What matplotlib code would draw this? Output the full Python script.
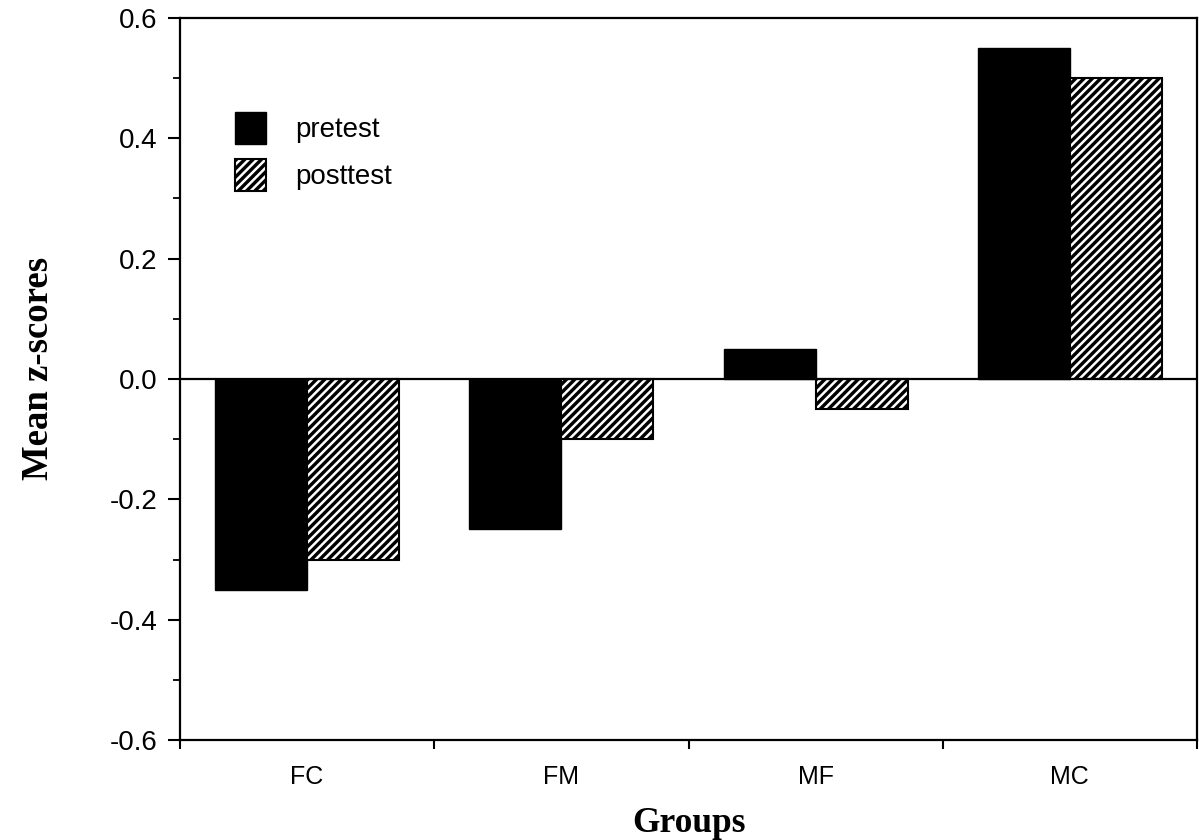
import matplotlib
matplotlib.use("Agg")
import matplotlib.pyplot as plt
from matplotlib.patches import Patch
from matplotlib.ticker import MultipleLocator, FixedLocator, NullFormatter, FixedFormatter
import numpy as np

groups = ["FC", "FM", "MF", "MC"]
pretest = [-0.35, -0.25, 0.05, 0.55]
posttest = [-0.30, -0.10, -0.05, 0.50]
series_labels = ["pretest", "posttest"]

plt.rcParams['axes.unicode_minus'] = False
plt.rcParams['hatch.color'] = 'white'
plt.rcParams['hatch.linewidth'] = 1.8
plt.rcParams['font.family'] = ['Liberation Sans', 'DejaVu Sans']

fig = plt.figure(figsize=(11.99, 8.40), dpi=100)
ax = fig.add_axes([180/1199, 1 - 740/840, (1197 - 180)/1199, (740 - 18)/840])

x = np.arange(len(groups))
w = 0.362
ax.bar(x - w/2, pretest, width=w, color='black', edgecolor='black', linewidth=1.0, zorder=2)
ax.bar(x + w/2, posttest, width=w, facecolor='black', hatch='////', zorder=2)
ax.bar(x + w/2, posttest, width=w, fill=False, edgecolor='black', linewidth=1.5, zorder=3)

ax.axhline(0, color='black', linewidth=1.6, zorder=4)

ax.set_xlim(-0.5, len(groups) - 0.5)
ax.set_ylim(-0.6, 0.6)

ax.yaxis.set_major_locator(MultipleLocator(0.2))
ax.yaxis.set_minor_locator(MultipleLocator(0.1))
ax.yaxis.set_major_formatter(matplotlib.ticker.FormatStrFormatter('%.1f'))

ax.xaxis.set_major_locator(FixedLocator(np.arange(len(groups) + 1) - 0.5))
ax.xaxis.set_major_formatter(NullFormatter())
ax.xaxis.set_minor_locator(FixedLocator(x))
ax.xaxis.set_minor_formatter(FixedFormatter(groups))

for s in ax.spines.values():
    s.set_linewidth(1.6)

ax.tick_params(axis='y', which='major', direction='out', length=9, width=1.5, labelsize=20, pad=7)
ax.tick_params(axis='y', which='minor', direction='out', length=5, width=1.3)
ax.tick_params(axis='x', which='major', direction='out', length=6.5, width=1.5)
ax.tick_params(axis='x', which='minor', length=0, labelsize=18, pad=18)

ax.set_xlabel("Groups", family=['Liberation Serif', 'DejaVu Serif'], fontweight='bold', fontsize=25.5)
ax.xaxis.set_label_coords(0.5, -0.093)
ax.xaxis.label.set_va('top')
ax.set_ylabel("Mean z-scores", family=['Liberation Serif', 'DejaVu Serif'], fontweight='bold', fontsize=26.5)
ax.yaxis.set_label_coords(-0.122, 0.515)

h1 = Patch(facecolor='black', edgecolor='black')
h2a = Patch(facecolor='black', hatch='////')
h2b = Patch(fill=False, edgecolor='black', linewidth=1.5)
leg = ax.legend([h1, (h2a, h2b)], series_labels, loc='upper left',
                bbox_to_anchor=((235 - 180)/1017, (740 - 112)/722),
                frameon=False, fontsize=20, handlelength=1.1, handleheight=1.38,
                handletextpad=1.06, labelspacing=0.55, borderpad=0, borderaxespad=0)

fig.savefig("out.png", dpi=100)
